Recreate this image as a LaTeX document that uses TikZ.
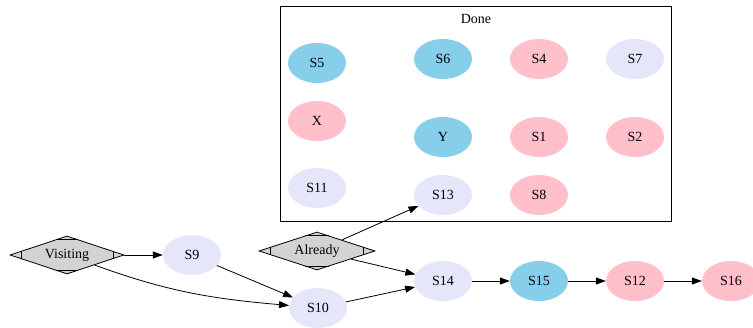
\documentclass[tikz,border=0pt]{standalone}
\usepackage{fontspec}
\setmainfont{Liberation Serif}
\usetikzlibrary{shapes.geometric,arrows.meta,calc}
\definecolor{lav}{HTML}{E6E6FA}
\definecolor{sky}{HTML}{87CEEB}
\definecolor{pnk}{HTML}{FFC0CB}
\definecolor{gry}{HTML}{D3D3D3}
\tikzset{
  lbl/.style={font=\fontsize{14}{16}\selectfont},
  st/.style={lbl, ellipse, minimum width=58pt, minimum height=40pt, inner sep=0pt},
  lavst/.style={st, fill=lav},
  skyst/.style={st, fill=sky},
  pnkst/.style={st, fill=pnk},
  mdia/.style={lbl, diamond, aspect=3, draw, line width=0.8pt, fill=gry,
               minimum width=114pt, minimum height=38pt, inner sep=0pt},
  edge/.style={-{Triangle[length=10pt,width=7pt]}, line width=0.8pt},
  cluster/.style={draw, line width=0.8pt}
}
% corner ticks of an Mdiamond-style node
\newcommand\mdticks[1]{%
  \draw[line width=0.8pt] ($(#1.west)!0.2!(#1.north)$) -- ($(#1.west)!0.2!(#1.south)$);
  \draw[line width=0.8pt] ($(#1.east)!0.2!(#1.north)$) -- ($(#1.east)!0.2!(#1.south)$);
  \draw[line width=0.8pt] ($(#1.north)!0.2!(#1.west)$) -- ($(#1.north)!0.2!(#1.east)$);
  \draw[line width=0.8pt] ($(#1.south)!0.2!(#1.west)$) -- ($(#1.south)!0.2!(#1.east)$);
}
\begin{document}
\begin{tikzpicture}[x=1pt,y=1pt]
\useasboundingbox (0,0) rectangle (753,328);

% cluster "Done"
\node[cluster, minimum width=391pt, minimum height=215pt, inner sep=0pt, anchor=south west] (done) at (280,106) {};
\node[lbl] (donelbl) at (476,309) {Done};

\node[skyst] (s5) at (317,265) {S5};
\node[skyst] (s6) at (443,269) {S6};
\node[pnkst] (s4) at (539,269) {S4};
\node[lavst] (s7) at (635,269) {S7};
\node[pnkst] (x)  at (317,207) {X};
\node[skyst] (y)  at (443,191) {Y};
\node[pnkst] (s1) at (539,191) {S1};
\node[pnkst] (s2) at (635,191) {S2};
\node[lavst] (s11) at (317,140) {S11};
\node[lavst] (s13) at (443,133) {S13};
\node[pnkst] (s8) at (539,133) {S8};

% lower row
\node[mdia] (vis) at (67,73) {Visiting};
\mdticks{vis}
\node[lavst] (s9) at (192,73) {S9};
\node[mdia, minimum width=116pt] (alr) at (317,77) {Already};
\mdticks{alr}
\node[lavst] (s10) at (318,20) {S10};
\node[lavst] (s14) at (443,47) {S14};
\node[skyst] (s15) at (539,47) {S15};
\node[pnkst] (s12) at (635,47) {S12};
\node[pnkst] (s16) at (731,47) {S16};

\draw[edge] (vis) -- (s9);
\draw[edge] (vis) to[out=-20,in=175] (s10);
\draw[edge] (s9) -- (s10);
\draw[edge] (s10) -- (s14);
\draw[edge] (alr) -- (s13);
\draw[edge] (alr) -- (s14);
\draw[edge] (s14) -- (s15);
\draw[edge] (s15) -- (s12);
\draw[edge] (s12) -- (s16);
\end{tikzpicture}
\end{document}
